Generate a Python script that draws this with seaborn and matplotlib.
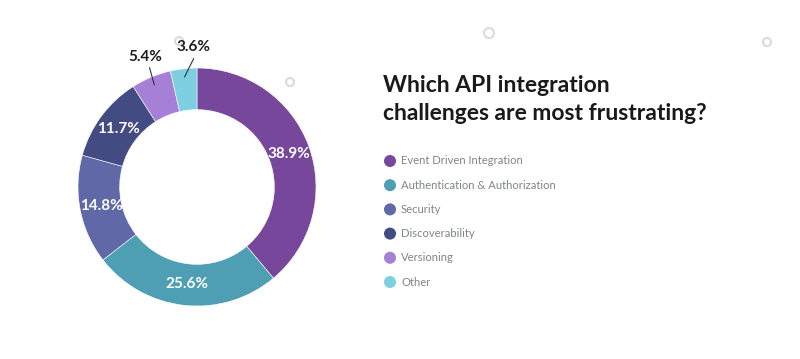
import numpy as np
import matplotlib
matplotlib.use("Agg")
import matplotlib.pyplot as plt
import seaborn as sns

categories = ["Event Driven Integration", "Authentication & Authorization", "Security",
              "Discoverability", "Versioning", "Other"]
shares = [38.9, 25.6, 14.8, 11.7, 5.4, 3.6]
colors = ["#76479A", "#4E9FB4", "#6068A8", "#434C82", "#A67FD6", "#7DD0E0"]
title_lines = ["Which API integration", "challenges are most frustrating?"]

# labels of the small slices sit outside the ring, with a leader line
outside = {"Versioning": -1.0, "Other": -5.0}  # angle tweak of the label (deg)

sns.set_theme(style="white")
plt.rcParams["font.family"] = ["Lato", "DejaVu Sans"]

W, H = 800, 359
fig = plt.figure(figsize=(W / 100, H / 100), dpi=100)
fig.patch.set_facecolor("white")

# background overlay in pixel coordinates
bg = fig.add_axes([0, 0, 1, 1], zorder=0)
bg.set_xlim(0, W)
bg.set_ylim(H, 0)
bg.axis("off")

# decorative rings
for cx, cy, r in [(179, 41, 4), (290, 82, 4), (489, 33, 5), (767, 42, 4)]:
    bg.add_patch(plt.Circle((cx, cy), r, fill=False, ec="#DCDCDC", lw=1.6))

# donut
cx, cy, R = 197, 187, 119
ax = fig.add_axes([(cx - R) / W, (H - cy - R) / H, 2 * R / W, 2 * R / H], zorder=1)
ax.patch.set_alpha(0)

def pct(v):
    return "" if v < 6 else f"{v:.1f}%"

wedges, _, autotexts = ax.pie(
    shares, colors=colors, startangle=90, counterclock=False,
    wedgeprops=dict(width=0.35, edgecolor="white", linewidth=0.4),
    autopct=pct, pctdistance=0.82,
    textprops=dict(color="white", fontsize=11, fontweight="bold"),
)
ax.set_xlim(-1, 1)
ax.set_ylim(-1, 1)
ax.set_aspect("equal")

for w, cat, v in zip(wedges, categories, shares):
    if cat not in outside:
        continue
    mid = np.deg2rad((w.theta1 + w.theta2) / 2)
    tmid = mid + np.deg2rad(outside[cat])
    ax.plot([0.93 * np.cos(mid), 1.08 * np.cos(tmid)],
            [0.93 * np.sin(mid), 1.08 * np.sin(tmid)],
            color="#333333", lw=0.8, clip_on=False)
    ax.text(1.18 * np.cos(tmid), 1.18 * np.sin(tmid),
            f"{v:.1f}%", ha="center", va="center", fontsize=11,
            fontweight="bold", color="#1E1E1E", clip_on=False)

# title
bg.text(383, 92, title_lines[0], fontsize=16.5, fontweight="bold", color="#1A1A1A", va="baseline")
bg.text(383, 120, title_lines[1], fontsize=16.5, fontweight="bold", color="#1A1A1A", va="baseline")

# legend
for i, (cat, col) in enumerate(zip(categories, colors)):
    y = 161 + i * 24.2
    bg.scatter([390], [y], s=75, color=col, edgecolors="none")
    bg.text(401, y, cat, fontsize=8.1, color="#7E858B", va="center")

fig.savefig("out.png", dpi=100, facecolor="white")
